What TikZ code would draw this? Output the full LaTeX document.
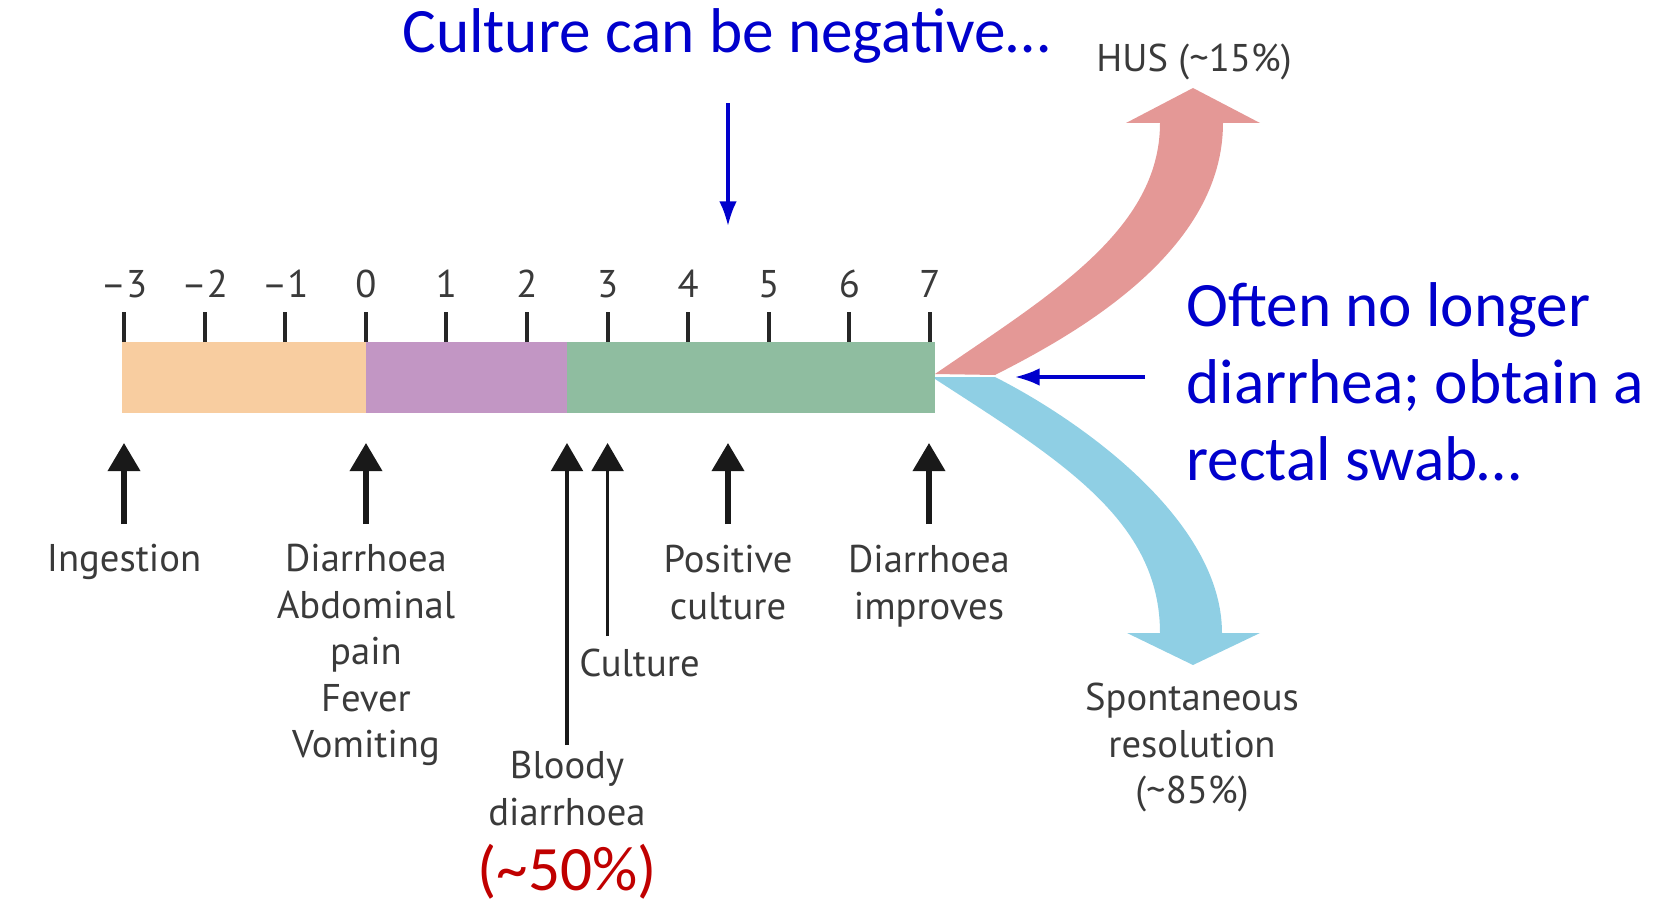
\documentclass[tikz,border=0pt]{standalone}
\usepackage{fontspec}
\setmainfont{PT Sans}
\newfontfamily\notefont{Carlito}
\usetikzlibrary{arrows.meta}

\definecolor{incub}{RGB}{248,205,160}
\definecolor{prodrome}{RGB}{194,150,196}
\definecolor{sympt}{RGB}{143,189,160}
\definecolor{husred}{RGB}{228,152,150}
\definecolor{resblue}{RGB}{143,207,228}
\definecolor{labgray}{RGB}{58,58,58}
\definecolor{noteblue}{RGB}{0,0,204}
\definecolor{notered}{RGB}{192,0,0}

\tikzset{
  evtlabel/.style={text=labgray, font=\fontsize{22}{26.5}\selectfont, align=center, inner sep=0pt, anchor=north},
  daynum/.style={text=labgray, font=\fontsize{22}{26}\selectfont, inner sep=0pt, anchor=base},
  tickline/.style={line width=2.2pt, black!85},
  evtarrow/.style={line width=3pt, black!90, -{Triangle[width=18pt,length=16pt]}},
  thinarrow/.style={evtarrow, line width=2pt},
  notetext/.style={text=noteblue, font=\notefont\fontsize{36}{44}\selectfont, inner sep=0pt},
  notearrow/.style={noteblue, line width=1.8pt, -{Latex[length=14pt,width=10pt]}}
}

\begin{document}
\begin{tikzpicture}[x=0.02cm, y=-0.02cm]
    \useasboundingbox (0,0) rectangle (1661,909);

    % Timeline bar
    \fill[incub] (122,342) rectangle (366,413);
    \fill[prodrome] (366,342) rectangle (567,413);
    \fill[sympt] (567,342) rectangle (935,413);
    \coordinate (fork) at (935,376);
    \coordinate (barbase) at (0,443);

    % Days
    \foreach \d in {-3,...,7} {
        \coordinate (d\d) at ({365.8+80.6*\d},342);
        \draw[tickline] (d\d) -- ++(0,-30);
        \node[daynum] at ({365.8+80.6*\d},297)
            {\ifnum\d<0 \textendash\the\numexpr-\d\relax\else\d\fi};
    }

    % Outcomes
    \fill[husred] (fork) ++(0,-2) .. controls (1050,295) and (1160,230) .. (1160,123)
        -- (1126,123) -- (1193,88) -- (1260,123) -- (1223,123)
        .. controls (1223,250) and (1080,332) .. (995,375) -- cycle;
    \fill[resblue] (fork) ++(0,1) -- (995,377) .. controls (1080,420) and (1222,520) .. (1222,633)
        -- (1260,633) -- (1193,665) -- (1127,633) -- (1160,633)
        .. controls (1160,520) and (1060,460) .. (935,379) -- cycle;
    \node[evtlabel] (hus) at (1194,44) {HUS (\textasciitilde15\%)};
    \node[evtlabel] (resolve) at (1192,683) {Spontaneous\\resolution\\(\textasciitilde85\%)};

    % Events
    \node[evtlabel] (ingest) at (124,544) {Ingestion};
    \node[evtlabel] (onset) at (366,544) {Diarrhoea\\Abdominal\\pain\\Fever\\Vomiting};
    \node[evtlabel] (bloody) at (567,751) {Bloody\\diarrhoea};
    \node[evtlabel, anchor=north west] (culture) at (579,649) {Culture};
    \node[evtlabel] (poscult) at (728,545) {Positive\\culture};
    \node[evtlabel] (improve) at (929,545) {Diarrhoea\\improves};

    \draw[evtarrow] (ingest.north) ++(0,-20) -- (ingest.north |- barbase);
    \draw[evtarrow] (onset.north) ++(0,-20) -- (onset.north |- barbase);
    \draw[thinarrow] (bloody.north) ++(0,-6) -- (bloody.north |- barbase);
    \draw[thinarrow] (d3 |- culture.north) ++(0,-13) -- (d3 |- barbase);
    \draw[evtarrow] (poscult.north) ++(0,-21) -- (poscult.north |- barbase);
    \draw[evtarrow] (improve.north) ++(0,-21) -- (improve.north |- barbase);

    % Notes
    \node[notetext, anchor=base] (negnote) at (726,53) {Culture can be negative…};
    \coordinate (negtip) at (728,226);
    \draw[notearrow] (negnote.south -| negtip) ++(0,39) -- (negtip);

    \node[notetext, anchor=north west, align=left] (swabnote) at (1186,282)
        {Often no longer\\diarrhea; obtain a\\rectal swab…};
    \coordinate (swabtip) at (1015,377);
    \draw[notearrow] (swabnote.west |- swabtip) ++(-41,0) -- (swabtip);

    \node[notetext, text=notered] (bloodypct) at (567,872) {(\textasciitilde50\%)};
\end{tikzpicture}
\end{document}
